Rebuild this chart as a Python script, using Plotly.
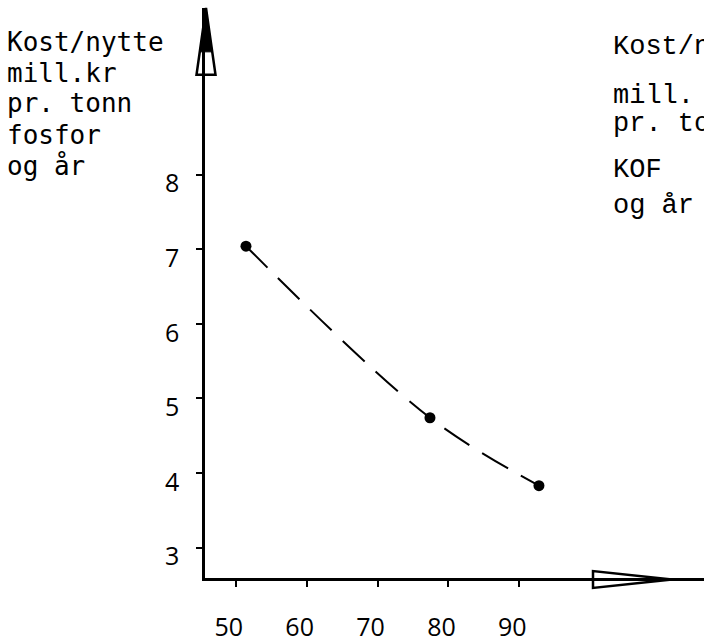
import plotly.graph_objects as go

# ---- data ----
x_vals = [51.44, 77.39, 92.76]
y_vals = [7.04, 4.74, 3.83]
x_ticks = [50, 60, 70, 80, 90]
y_ticks = [3, 4, 5, 6, 7, 8]
left_label_lines = ["Kost/nytte", "mill.kr", "pr. tonn", "fosfor", "og år"]
right_label_lines = ["Kost/nytte", "mill. kr", "pr. tonn", "KOF", "og år"]

W, H = 704, 643
ML, MR, MT, MB = 205, 0, 8, 63
PW = W - ML - MR
PH = H - MT - MB


def px(xp):
    return (xp - ML) / PW


def py(yp):
    return (H - MB - yp) / PH


fig = go.Figure()
fig.add_trace(go.Scatter(
    x=x_vals, y=y_vals, mode="lines+markers",
    line=dict(color="black", width=2, dash="30px,15px", shape="spline"),
    marker=dict(color="black", size=11),
    showlegend=False, hoverinfo="skip",
))

shapes = []
# y-axis arrowhead: hollow outline + filled tip
shapes.append(dict(type="path", xref="paper", yref="paper",
                   path=f"M {px(206)},{py(8)} L {px(196.5)},{py(75)} L {px(215.5)},{py(75)} Z",
                   line=dict(color="black", width=2.5), fillcolor="rgba(0,0,0,0)"))
shapes.append(dict(type="path", xref="paper", yref="paper",
                   path=f"M {px(206)},{py(8)} L {px(199.8)},{py(52)} L {px(212.2)},{py(52)} Z",
                   line=dict(color="black", width=1), fillcolor="black"))
# x-axis arrowhead: hollow outline
shapes.append(dict(type="path", xref="paper", yref="paper",
                   path=f"M {px(593)},{py(573)} L {px(593)},{py(590)} L {px(672)},{py(581.5)} Z",
                   line=dict(color="black", width=2.5), fillcolor="rgba(0,0,0,0)"))

annotations = []
left_y = [42, 73, 103, 135, 167]
for txt, yy in zip(left_label_lines, left_y):
    annotations.append(dict(text=txt, xref="paper", yref="paper", x=px(5), y=py(yy),
                            xanchor="left", yanchor="middle", showarrow=False,
                            font=dict(family="DejaVu Sans Mono", size=26, color="black")))
right_y = [47, 96, 124, 171, 207]
for txt, yy in zip(right_label_lines, right_y):
    annotations.append(dict(text=txt, xref="paper", yref="paper", x=px(611), y=py(yy),
                            xanchor="left", yanchor="middle", showarrow=False,
                            font=dict(family="Liberation Mono", size=27, color="black")))

fig.update_layout(
    width=W, height=H,
    margin=dict(l=ML, r=MR, t=MT, b=MB, pad=0),
    paper_bgcolor="white", plot_bgcolor="white",
    shapes=shapes, annotations=annotations,
    xaxis=dict(range=[45.66, 116.04], tickvals=x_ticks, ticktext=[str(v) for v in x_ticks],
               showgrid=False, zeroline=False, showline=True, linecolor="black", linewidth=3,
               ticks="outside", ticklen=6, tickwidth=2, tickcolor="black",
               ticklabelstandoff=19, ticklabelshift=-7,
               tickfont=dict(family="Open Sans", size=25, color="black")),
    yaxis=dict(range=[2.592, 10.233], tickvals=y_ticks, ticktext=[str(v) for v in y_ticks],
               showgrid=False, zeroline=False, showline=True, linecolor="black", linewidth=2.5,
               ticks="outside", ticklen=6, tickwidth=2, tickcolor="black",
               ticklabelstandoff=12, ticklabelshift=9,
               tickfont=dict(family="Open Sans", size=25, color="black")),
)

fig.write_html("out.html", config={"displayModeBar": False},
               post_script="document.body.style.margin='0px';")
